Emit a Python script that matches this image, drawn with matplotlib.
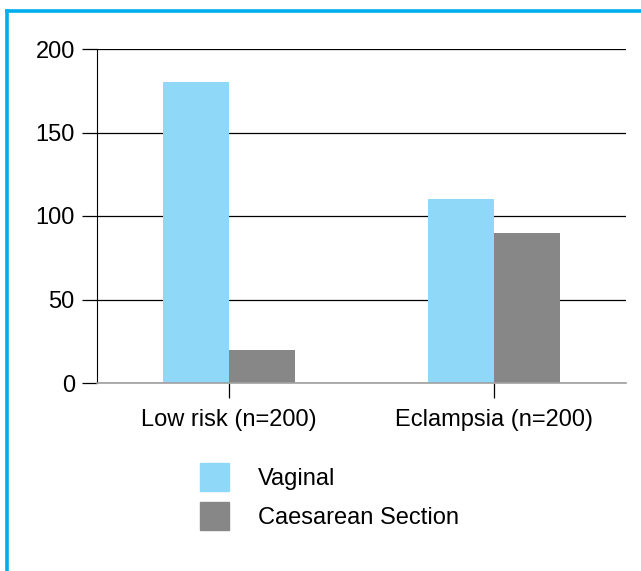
import matplotlib.pyplot as plt
from matplotlib.patches import Patch
from matplotlib.lines import Line2D
import numpy as np

plt.rcParams['font.family'] = ['Liberation Sans', 'DejaVu Sans']

# data
groups = ["Low risk (n=200)", "Eclampsia (n=200)"]
vaginal = [180, 110]
caesarean = [20, 90]
series_names = ["Vaginal", "Caesarean Section"]
yticks = [0, 50, 100, 150, 200]

c_vag = "#8fd8f7"
c_cs = "#878787"

fig = plt.figure(figsize=(6.41, 5.71), dpi=100)
W, H = 641, 571
ax = fig.add_axes([97 / W, 1 - 383 / H, (626 - 97) / W, (383 - 49) / H])

x = np.arange(len(groups))
w = 0.25
ax.bar(x - w / 2, vaginal, w, color=c_vag, zorder=2)
ax.bar(x + w / 2, caesarean, w, color=c_cs, zorder=2)

ax.set_xlim(-0.5, 1.5)
ax.set_ylim(0, 200)
ax.set_yticks(yticks)
ax.set_xticks(x)
ax.set_xticklabels(groups)
ax.yaxis.grid(True, color="black", linewidth=0.9, zorder=0)
ax.set_axisbelow(True)

for s in ["top", "right"]:
    ax.spines[s].set_visible(False)
ax.spines["left"].set_color("black")
ax.spines["left"].set_linewidth(0.8)
ax.spines["bottom"].set_color("#a0a0a0")
ax.spines["bottom"].set_linewidth(1.2)
ax.spines["bottom"].set_zorder(3)

ax.tick_params(axis="y", length=11, width=0.9, labelsize=17, pad=5)
ax.tick_params(axis="x", length=11, width=0.9, labelsize=17, pad=8)

handles = [Patch(color=c_vag), Patch(color=c_cs)]
fig.legend(handles, series_names, loc="upper left",
           bbox_to_anchor=(200 / W, 1 - 463 / H), frameon=False,
           fontsize=17, handlelength=1.23, handleheight=1.45,
           handletextpad=1.23, labelspacing=0.46, borderpad=0,
           borderaxespad=0)

# cyan frame (left and top edges)
fig.add_artist(Line2D([7 / W, 7 / W], [0, 1 - 11 / H], color="#00aeef",
                      linewidth=2.6, transform=fig.transFigure))
fig.add_artist(Line2D([7 / W, 1], [1 - 11 / H, 1 - 11 / H], color="#00aeef",
                      linewidth=2.6, transform=fig.transFigure))

fig.savefig("out.png", dpi=100)
